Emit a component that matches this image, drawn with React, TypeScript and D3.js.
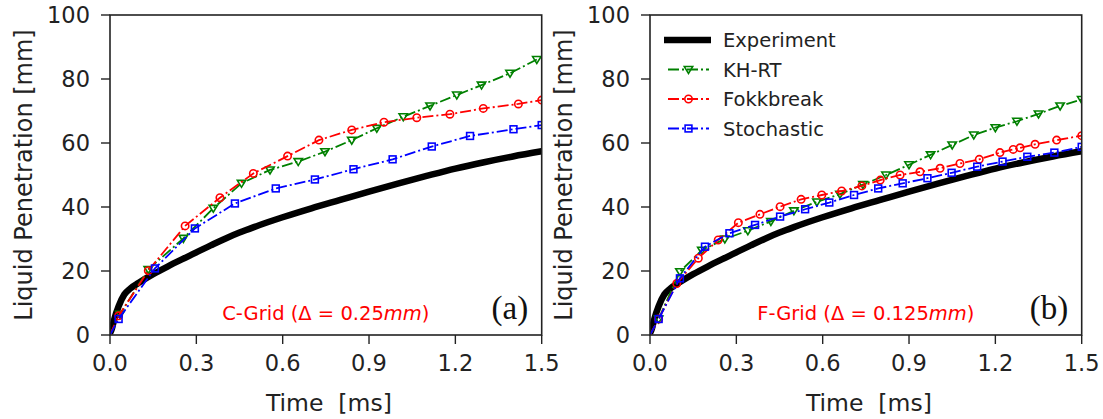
import React from "react";
import * as d3 from "d3";

// ---------- data ----------
const xTicks = [0.0, 0.3, 0.6, 0.9, 1.2, 1.5];
const yTicks = [0, 20, 40, 60, 80, 100];

const expTime = [0, 0.006, 0.015, 0.03, 0.05, 0.07, 0.1, 0.15, 0.2, 0.27, 0.35, 0.4, 0.45, 0.5, 0.55, 0.6, 0.7, 0.8, 0.9, 1.0, 1.1, 1.2, 1.3, 1.4, 1.5];
const expPen = [0.5, 1.8, 5, 9, 12.7, 14.5, 16.3, 19, 21.4, 24.5, 28, 30.1, 32.0, 33.7, 35.3, 36.8, 39.6, 42.2, 44.8, 47.3, 49.7, 52, 54, 55.8, 57.4];

// C-Grid (a)
const khrtTimeA = [0, 0.035, 0.133, 0.255, 0.359, 0.457, 0.556, 0.654, 0.747, 0.84, 0.927, 1.019, 1.112, 1.205, 1.291, 1.39, 1.483];
const khrtPenA = [0, 6.5, 20.5, 30.2, 39.6, 47.4, 51.6, 54.2, 57.3, 60.9, 64.6, 68.2, 71.6, 75, 78.1, 81.8, 86.1];
const fokkTimeA = [0, 0.03, 0.133, 0.261, 0.382, 0.498, 0.617, 0.726, 0.84, 0.952, 1.066, 1.181, 1.297, 1.419, 1.5];
const fokkPenA = [0, 6, 20.1, 34.1, 42.9, 50.5, 55.9, 60.9, 64.1, 66.5, 67.9, 69.0, 70.8, 72.2, 73.4];
const stochTimeA = [0, 0.03, 0.156, 0.295, 0.434, 0.576, 0.712, 0.846, 0.982, 1.118, 1.251, 1.402, 1.5];
const stochPenA = [0, 5, 20.8, 33.3, 41.1, 45.8, 48.6, 51.8, 54.9, 58.9, 62.2, 64.3, 65.6];

// F-Grid (b)
const khrtTimeB = [0, 0.03, 0.104, 0.18, 0.26, 0.34, 0.42, 0.5, 0.58, 0.66, 0.74, 0.82, 0.9, 0.975, 1.05, 1.125, 1.2, 1.275, 1.35, 1.425, 1.5];
const khrtPenB = [0, 5, 19.8, 26.5, 30, 32.6, 35.5, 38.8, 41.6, 44, 47, 50, 53.2, 56.3, 59.4, 62.5, 64.8, 66.8, 69.1, 71.6, 73.6];
const fokkTimeB = [0, 0.03, 0.093, 0.168, 0.237, 0.307, 0.382, 0.452, 0.525, 0.597, 0.666, 0.736, 0.8, 0.869, 0.938, 1.008, 1.077, 1.144, 1.216, 1.262, 1.286, 1.338, 1.413, 1.5];
const fokkPenB = [0, 5, 16.1, 24, 29.7, 35.1, 37.7, 40.1, 42.4, 43.75, 45, 46.6, 48.4, 50, 51, 52.1, 53.6, 54.9, 57, 58, 58.5, 59.6, 60.9, 62.3];
const stochTimeB = [0, 0.03, 0.104, 0.191, 0.276, 0.365, 0.452, 0.539, 0.623, 0.709, 0.793, 0.878, 0.964, 1.048, 1.137, 1.225, 1.311, 1.405, 1.5];
const stochPenB = [0, 5, 17.7, 27.6, 31.8, 34.4, 37, 39.3, 41.4, 43.75, 45.8, 47.4, 49, 50.7, 52.6, 54.2, 55.7, 57, 58.8];

const seriesNames = ["Experiment", "KH-RT", "Fokkbreak", "Stochastic"];
const seriesColors = ["#000000", "#008000", "#ff0000", "#0000ff"];
const panelTags = ["(a)", "(b)"];
const gridNames = ["C-Grid", "F-Grid"];
const gridDeltas = ["0.25", "0.125"];

// ---------- layout ----------
const W = 1103;
const H = 419;
const top = 15;
const bottom = 335;
const panelLefts = [110, 650];
const panelWidth = 431.7;
const FONT = "DejaVu Sans, sans-serif";
const DASH = "11,3,2,3";

type Pt = [number, number];
const zip = (t: number[], v: number[]): Pt[] => t.map((x, i) => [x, v[i]]);

const panels = [
  {
    series: [zip(khrtTimeA, khrtPenA), zip(fokkTimeA, fokkPenA), zip(stochTimeA, stochPenA)],
  },
  {
    series: [zip(khrtTimeB, khrtPenB), zip(fokkTimeB, fokkPenB), zip(stochTimeB, stochPenB)],
  },
];

function Marker({ kind, x, y, color }: { kind: number; x: number; y: number; color: string }) {
  const sw = 1.6;
  if (kind === 0) {
    const s = 4.2;
    return (
      <path
        d={`M${x - s},${y - s * 0.7}L${x + s},${y - s * 0.7}L${x},${y + s * 0.95}Z`}
        fill="none"
        stroke={color}
        strokeWidth={sw}
      />
    );
  }
  if (kind === 1) return <circle cx={x} cy={y} r={3.7} fill="none" stroke={color} strokeWidth={sw} />;
  return <rect x={x - 3.4} y={y - 3.4} width={6.8} height={6.8} fill="none" stroke={color} strokeWidth={sw} />;
}

function Panel({ idx }: { idx: number }) {
  const left = panelLefts[idx];
  const right = left + panelWidth;
  const x = d3.scaleLinear().domain([0, 1.5]).range([left, right]);
  const y = d3.scaleLinear().domain([0, 100]).range([bottom, top]);
  const line = d3
    .line<Pt>()
    .x((d) => x(d[0]))
    .y((d) => y(d[1]))
    .curve(d3.curveLinear);
  const expLine = d3
    .line<Pt>()
    .x((d) => x(d[0]))
    .y((d) => y(d[1]))
    .curve(d3.curveMonotoneX);
  const clipId = `clip${idx}`;
  const p = panels[idx];
  const cx = (left + right) / 2;

  return (
    <g>
      <defs>
        <clipPath id={clipId}>
          <rect x={left} y={top} width={panelWidth} height={bottom - top} />
        </clipPath>
      </defs>
      <g clipPath={`url(#${clipId})`}>
        <path d={expLine(zip(expTime, expPen)) || ""} fill="none" stroke="#000" strokeWidth={6.5} />
        {p.series.map((s, si) => (
          <g key={si}>
            <path d={line(s) || ""} fill="none" stroke={seriesColors[si + 1]} strokeWidth={1.8} strokeDasharray={DASH} />
            {s.slice(1).map((d, k) => (
              <Marker key={k} kind={si} x={x(d[0])} y={y(d[1])} color={seriesColors[si + 1]} />
            ))}
          </g>
        ))}
      </g>
      {/* frame */}
      <rect x={left} y={top} width={panelWidth} height={bottom - top} fill="none" stroke="#222" strokeWidth={1.6} />
      {/* x ticks */}
      {xTicks.map((t) => (
        <g key={t}>
          <line x1={x(t)} x2={x(t)} y1={bottom} y2={bottom + 9} stroke="#222" strokeWidth={1.4} />
          <text x={x(t)} y={bottom + 36} textAnchor="middle" fontFamily={FONT} fontSize={22.5} fill="#222">
            {t.toFixed(1)}
          </text>
        </g>
      ))}
      {/* y ticks */}
      {yTicks.map((t) => (
        <g key={t}>
          <line x1={left - 9} x2={left} y1={y(t)} y2={y(t)} stroke="#222" strokeWidth={1.4} />
          <text x={left - 20} y={y(t)} dy="0.36em" textAnchor="end" fontFamily={FONT} fontSize={22.5} fill="#222">
            {t}
          </text>
        </g>
      ))}
      <text x={cx + 3} y={411} textAnchor="middle" fontFamily={FONT} fontSize={23.5} fill="#222" xmlSpace="preserve">
        {"Time  [ms]"}
      </text>
      <text
        transform={`translate(${left - 87},${(top + bottom) / 2}) rotate(-90)`}
        textAnchor="middle"
        dy="0.36em"
        fontFamily={FONT}
        fontSize={24}
        fill="#222"
      >
        Liquid Penetration [mm]
      </text>
      {/* annotation */}
      <text x={cx} y={320} textAnchor="middle" fontFamily={FONT} fontSize={19.5} fill="#ff0000">
        {`${gridNames[idx]} (Δ = ${gridDeltas[idx]}`}
        <tspan fontStyle="italic">mm</tspan>
        {")"}
      </text>
      <text x={right - 13.5} y={319} textAnchor="end" fontFamily="Liberation Serif, serif" fontSize={33} fill="#111">
        {panelTags[idx]}
      </text>
    </g>
  );
}

function Legend() {
  const x0 = 664;
  const rows = [40, 69.5, 99, 128.5];
  return (
    <g>
      {seriesNames.map((name, i) => (
        <g key={name}>
          {i === 0 ? (
            <line x1={x0} x2={x0 + 47} y1={rows[i]} y2={rows[i]} stroke="#000" strokeWidth={6.5} />
          ) : (
            <g>
              <line x1={x0 + 4} x2={x0 + 45} y1={rows[i]} y2={rows[i]} stroke={seriesColors[i]} strokeWidth={1.8} strokeDasharray="11,3,2,3" />
              <Marker kind={i - 1} x={x0 + 24.5} y={rows[i]} color={seriesColors[i]} />
            </g>
          )}
          <text x={723} y={rows[i]} dy="0.36em" fontFamily={FONT} fontSize={19.5} fill="#222">
            {name}
          </text>
        </g>
      ))}
    </g>
  );
}

export default function App() {
  return (
    <svg width={W} height={H} style={{ position: "absolute", left: 0, top: 0, background: "#fff" }}>
      <rect width={W} height={H} fill="#fff" />
      <Panel idx={0} />
      <Panel idx={1} />
      <Legend />
    </svg>
  );
}
